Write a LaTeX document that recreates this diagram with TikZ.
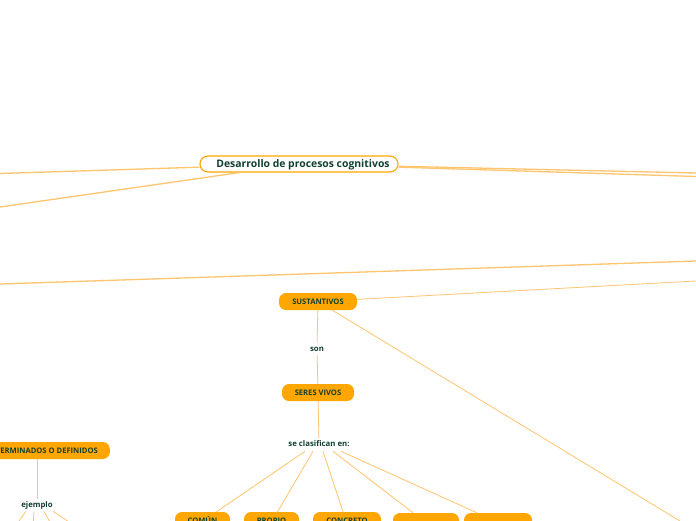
\documentclass[tikz,border=0pt]{standalone}
\usepackage{fontspec}
\setmainfont{Open Sans}
\definecolor{txt}{RGB}{18,64,48}
\definecolor{org}{RGB}{255,166,0}
\definecolor{lin}{RGB}{255,196,110}
\begin{document}
\begin{tikzpicture}[x=1pt,y=-1pt,
  rootbox/.style={draw=org, line width=1.1pt, fill=white, rounded corners=8pt, minimum width=198pt, minimum height=16pt, inner sep=0pt, text height=7.6pt, text depth=0.6pt, font=\fontsize{10.4}{12}\selectfont\bfseries, text=txt},
  obox/.style={fill=org, rounded corners=7pt, minimum height=17pt, inner ysep=0pt, inner xsep=0pt, text height=5.4pt, text depth=0pt, font=\fontsize{7.6}{9}\selectfont\bfseries, text=txt},
  lbl/.style={inner sep=3pt, text height=5.6pt, text depth=0.6pt, font=\fontsize{7.8}{9}\selectfont\bfseries, text=txt},
  con/.style={draw=lin, line width=0.8pt},
  bigcon/.style={draw=lin, line width=1.3pt}
]
\useasboundingbox (0,0) rectangle (696,520);
\clip (0,0) rectangle (696,520);
\fill[white] (0,0) rectangle (696,520);

% nodes
\node[rootbox] (root) at (299,164) {\hspace{8pt}Desarrollo de procesos cognitivos};
\node[obox, minimum width=78pt] (sust) at (318,301.5) {SUSTANTIVOS};
\node[lbl] (son) at (317,349) {son};
\node[obox, minimum width=72pt] (seres) at (318,392.5) {SERES VIVOS};
\node[lbl] (sc) at (319,444) {se clasifican en:};
\node[obox, minimum width=55pt] (comun) at (202.5,520.5) {COMÚN};
\node[obox, minimum width=55pt] (propio) at (271.5,520.5) {PROPIO};
\node[obox, minimum width=68pt] (concreto) at (347,520.5) {CONCRETO};
\node[obox, minimum width=66pt] (n4) at (426,521.5) {};
\node[obox, minimum width=68pt] (n5) at (498,521.5) {};
\node[obox, anchor=east, inner xsep=12pt] (det) at (110,450.5) {DETERMINADOS O DEFINIDOS};
\node[lbl] (ej) at (37,505) {ejemplo};

% free ends
\coordinate (L1) at (0,173.5);
\coordinate (L2) at (0,207);
\coordinate (R1) at (696,173);
\coordinate (R2) at (696,176.5);
\coordinate (A1) at (0,284);
\coordinate (A2) at (696,261);
\coordinate (R3) at (696,281);
\coordinate (BR) at (680,521);
\coordinate (e1) at (17,524);
\coordinate (e2) at (33,526);
\coordinate (e3) at (51,524);
\coordinate (e4) at (72,524);

% connectors
\draw[bigcon] (root) -- (L1);
\draw[bigcon] (root) -- (L2);
\draw[bigcon] (root) -- (R1);
\draw[bigcon] (root) -- (R2);
\draw[bigcon] (A1) -- (A2);
\draw[con] (sust) -- (R3);
\draw[con] (sust) -- (BR);
\draw[con] (sust) -- (son);
\draw[con] (son) -- (seres);
\draw[con] (seres) -- (sc);
\draw[con] ([xshift=-14pt,yshift=-1pt]sc.south) -- ([xshift=14pt]comun.north);
\draw[con] ([xshift=-6pt,yshift=-1pt]sc.south) -- ([xshift=6pt]propio.north);
\draw[con] ([xshift=4pt,yshift=-1pt]sc.south) -- ([xshift=-4pt]concreto.north);
\draw[con] ([xshift=14pt,yshift=-1pt]sc.south) -- ([xshift=-13pt]n4.north);
\draw[con] ([xshift=22pt,yshift=-1pt]sc.south) -- ([xshift=-21pt]n5.north);
\draw[con] (ej) -- (ej |- det.south);
\draw[con] ([xshift=-11pt]ej.south) -- (e1);
\draw[con] ([xshift=-3pt]ej.south) -- (e2);
\draw[con] ([xshift=7pt]ej.south) -- (e3);
\draw[con] ([xshift=16pt]ej.south) -- (e4);
\end{tikzpicture}
\end{document}
